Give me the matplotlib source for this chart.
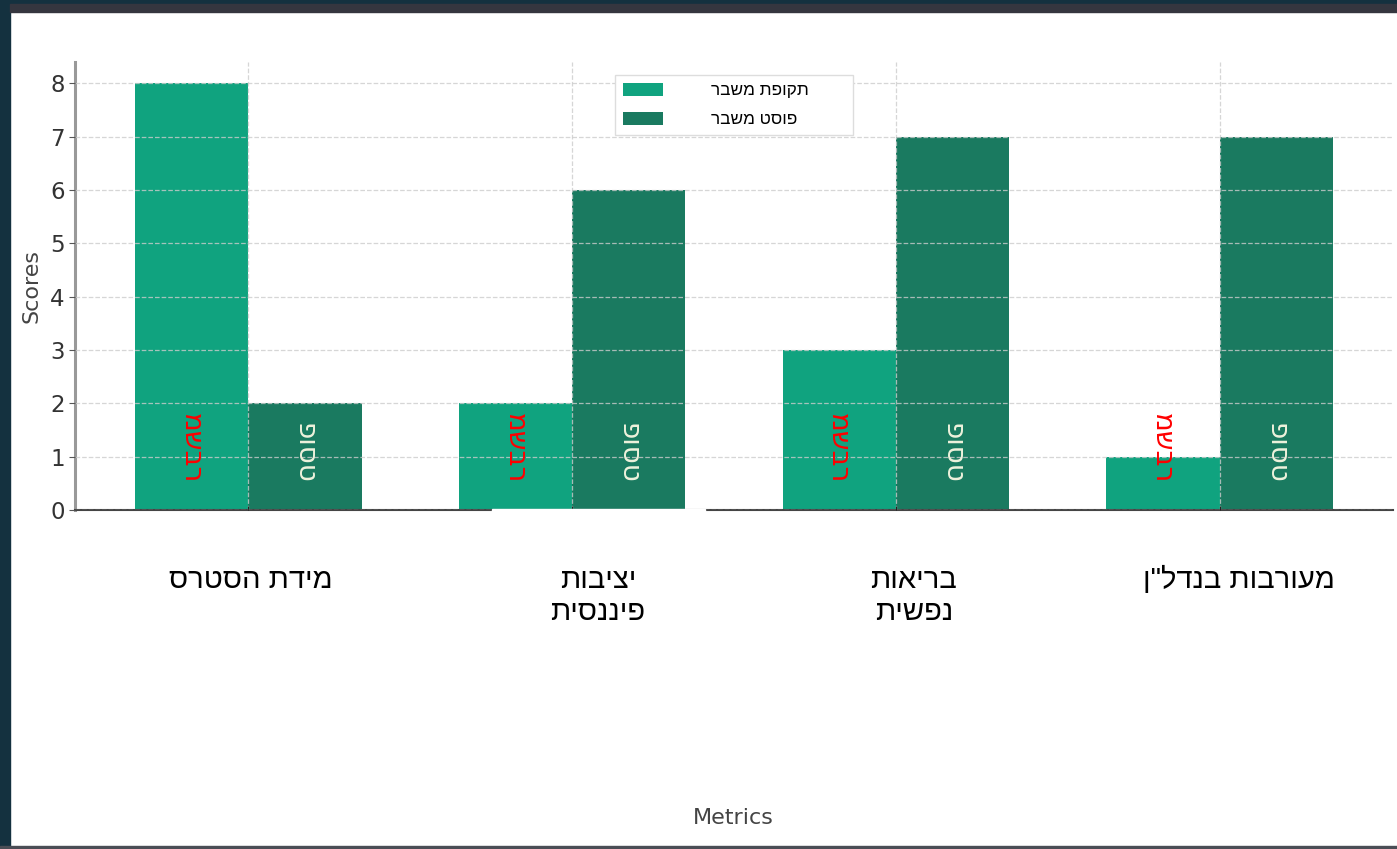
"""Grouped bar chart: crisis vs. post-crisis scores per metric (Hebrew labels)."""
import matplotlib

matplotlib.use("Agg")
import matplotlib.pyplot as plt
import numpy as np
from matplotlib.patches import Rectangle
from matplotlib.transforms import ScaledTranslation

# data (logical Hebrew order; reversed at draw time since matplotlib has no bidi)
categories = ["מידת הסטרס", "יציבות\nפיננסית", "בריאות\nנפשית", 'מעורבות בנדל"ן']
crisis_scores = [8, 2, 3, 1]
post_scores = [2, 6, 7, 7]
series_names = ["תקופת משבר", "פוסט משבר"]
bar_tags = ["משבר", "פוסט"]

CRISIS_COLOR = "#10a37f"
POST_COLOR = "#1a7a60"
HEB_FONT = ["Liberation Sans", "DejaVu Sans"]
TAG_FONT = ["DejaVu Sans"]
# the category captions sit a little right of the group centres (pixels)
label_shift_px = [3, 26, 18, 19]


def visual(s):
    # reverse each line so RTL text reads correctly in an LTR renderer
    return "\n".join(line[::-1] for line in s.split("\n"))


W, H, DPI = 1397, 849, 100
fig = plt.figure(figsize=(W / DPI, H / DPI), dpi=DPI, facecolor="white")
ax = fig.add_axes([75 / W, 1 - 510 / H, (1393 - 75) / W, (510 - 62) / H])

x = np.arange(len(categories))
width = 0.35
b1 = ax.bar(x - width / 2, crisis_scores, width, color=CRISIS_COLOR,
            label=visual(series_names[0]), zorder=1)
b2 = ax.bar(x + width / 2, post_scores, width, color=POST_COLOR,
            label=visual(series_names[1]), zorder=1)

# rotated tags inside the bars (drawn as-is, like the original)
for bars, tag, col in ((b1, bar_tags[0], "red"), (b2, bar_tags[1], "#eef2dc")):
    for bar in bars:
        ax.text(bar.get_x() + bar.get_width() / 2, 0.5, tag,
                rotation=-90, ha="center", va="bottom", color=col,
                fontsize=20, family=TAG_FONT, zorder=3)

ax.set_xlim(-0.535, 3.535)
ax.set_ylim(0, 8.4)
ax.set_yticks(range(0, 9))
ax.set_xticks(x)
ax.set_xticklabels([visual(c) for c in categories], family=HEB_FONT,
                   fontsize=21, color="black", linespacing=1.2)
ax.tick_params(axis="x", length=3, direction="in", color="#222222", pad=40)
ax.tick_params(axis="y", labelsize=16.5, labelcolor="#333333",
               color="#555555", length=4)
for lbl, dx in zip(ax.get_xticklabels(), label_shift_px):
    lbl.set_transform(lbl.get_transform()
                      + ScaledTranslation(dx / DPI, 0, fig.dpi_scale_trans))
    lbl.set_va("top")

ax.grid(True, linestyle="--", color="#cccccc", linewidth=0.9, alpha=0.8)
ax.set_axisbelow(False)
for side in ("top", "right"):
    ax.spines[side].set_visible(False)
ax.spines["left"].set_color("#999999")
ax.spines["left"].set_linewidth(2.2)
ax.spines["bottom"].set_color("#444444")
ax.spines["bottom"].set_linewidth(1.5)

ax.set_ylabel("Scores", fontsize=16, color="#444444", labelpad=6)
fig.text(733 / W, 1 - 818 / H, "Metrics", fontsize=16, color="#444444",
         ha="center", va="center")

leg = ax.legend(loc="upper left",
                bbox_to_anchor=(0.4097, 0.9715, 0.1806, 0.0),
                mode="expand", borderaxespad=0,
                prop={"family": HEB_FONT, "size": 12.4},
                handlelength=2.35, handleheight=0.8, handletextpad=2.75,
                borderpad=0.45, labelspacing=0.8, fancybox=False,
                framealpha=1, edgecolor="#dddddd")
for t in leg.get_texts():
    t.set_ha("left")


# screenshot framing
def fig_rect(x0, y0, x1, y1, color, z=10):
    fig.patches.append(Rectangle((x0 / W, 1 - y1 / H), (x1 - x0) / W,
                                 (y1 - y0) / H, transform=fig.transFigure,
                                 color=color, zorder=z))


fig_rect(0, 0, 10, H, "#14313f")
fig_rect(0, 0, W, 4, "#14313f")
fig_rect(10, 4, W, 12, "#35363f")
fig_rect(0, 846, W, H, "#4a4d55")
fig_rect(492, 509, 705, 514, "white", z=5)

fig.savefig("out.png", dpi=DPI, facecolor="white")
